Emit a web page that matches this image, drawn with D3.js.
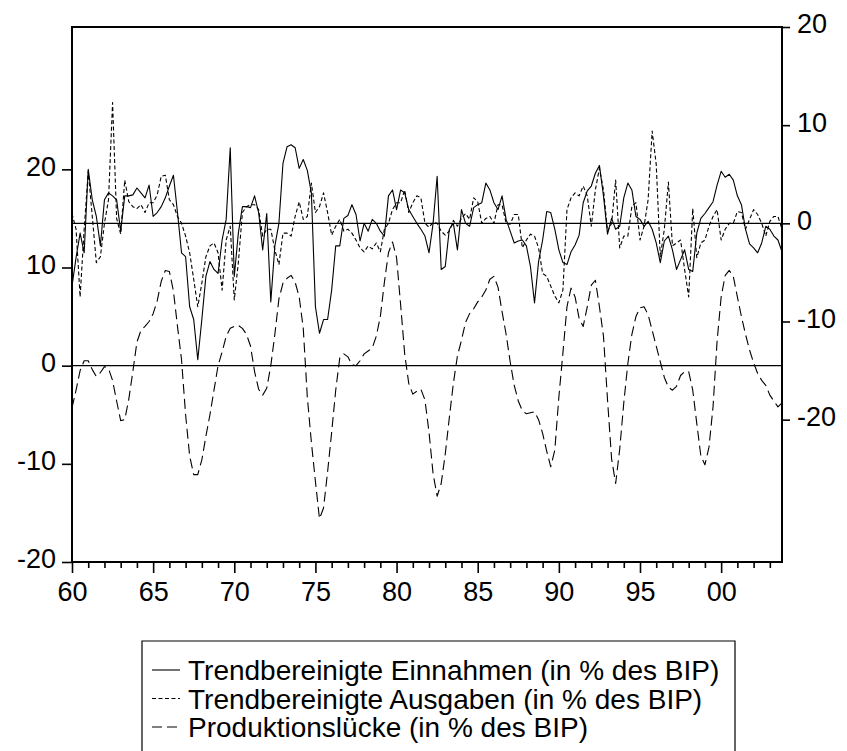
<!DOCTYPE html>
<html><head><meta charset="utf-8">
<script src="https://cdn.jsdelivr.net/npm/d3@7"></script>
<style>
body{margin:0;background:#fff}
svg{display:block}
text{font-family:"Liberation Sans",Arial,Helvetica,sans-serif;fill:#000}
</style>
</head><body>
<svg id="chart" width="847" height="751"></svg>
<script>
// Quarterly observations, 1960Q1 .. 2003Q4
const firstYear = 1960;
const majorTickYears = [1960,1965,1970,1975,1980,1985,1990,1995,2000];
const majorTickLabels = ["60","65","70","75","80","85","90","95","00"];
const leftTicks = [-20,-10,0,10,20];
const rightTicks = [-20,-10,0,10,20];
const seriesNames = [
  "Trendbereinigte Einnahmen (in % des BIP)",
  "Trendbereinigte Ausgaben (in % des BIP)",
  "Produktionslücke (in % des BIP)"
];
// right axis
const einnahmen = [
-6.4,-3.5,-1.0,-3.0,5.5,2.4,0.7,-2.3,2.4,3.1,2.8,2.4,-0.8,2.8,2.8,2.9,3.6,3.1,2.6,3.9,
0.7,1.1,1.7,2.6,3.8,4.9,1.1,-3.0,-3.4,-8.5,-9.8,-13.9,-9.8,-5.4,-3.9,-4.7,-5.1,-1.7,0.4,7.7,
-5.4,-1.0,1.7,1.7,1.6,2.8,1.1,-2.7,1.0,-8.0,-2.3,0.0,6.1,7.8,8.0,7.7,5.6,6.5,5.4,3.1,
-8.5,-11.2,-9.8,-9.8,-6.8,-2.3,-2.3,0.5,0.8,1.9,0.9,-1.8,0.0,-0.8,0.4,0.0,-0.8,-1.3,2.8,3.4,
1.4,3.4,3.1,1.4,0.7,0.0,-0.6,-1.3,-3.0,0.0,4.8,-4.7,-4.4,-0.6,0.0,-2.7,1.4,0.0,-0.3,1.6,
1.9,2.1,4.1,3.4,2.1,1.4,2.8,0.4,-0.8,-2.0,-1.8,-1.7,-2.3,-4.4,-8.1,-3.9,-1.7,1.2,1.1,-0.6,
-2.7,-4.0,-4.2,-2.9,-2.2,-1.2,2.1,3.3,3.8,5.1,5.9,2.8,-1.1,0.5,-0.6,-0.3,2.6,4.1,3.4,0.7,
0.4,-0.3,0.2,-0.6,-2.0,-4.0,-1.8,-1.3,-2.7,-4.7,-3.7,-2.7,-4.7,-4.9,-1.0,0.5,1.0,1.6,2.2,3.9,
5.3,4.7,5.0,4.4,2.8,1.9,-0.6,-2.1,-2.5,-3.0,-2.0,-0.3,-0.6,-1.3,-1.7,-2.9
];
// right axis
const ausgaben = [
1.0,-0.6,-7.5,-0.6,5.3,0.7,-4.0,-3.4,0.0,2.4,12.3,0.5,-1.1,4.4,2.2,1.7,1.5,1.9,1.1,2.1,
2.1,2.9,4.8,4.9,2.4,1.9,0.7,0.0,-1.3,-3.0,-5.7,-8.5,-6.1,-3.4,-2.3,-2.0,-3.0,-6.8,-1.7,-0.3,
-7.8,-4.0,1.1,1.7,1.9,1.9,1.4,-1.3,-0.6,-0.6,-2.7,-4.2,-1.0,-1.0,-1.3,0.7,2.2,0.4,0.7,4.1,
1.1,1.7,3.1,1.1,-1.2,-0.3,0.4,-0.8,-0.6,-1.0,-1.7,-2.5,-2.9,-2.3,-2.6,-2.0,-2.9,-0.6,0.0,1.4,
2.1,2.1,3.4,1.1,2.1,2.8,2.6,0.0,-0.4,0.1,0.0,-0.8,-1.2,-0.8,0.3,-0.3,0.5,1.0,0.4,2.6,
2.2,0.0,0.5,0.7,0.0,1.9,1.9,0.0,-0.1,0.9,0.9,-2.5,-1.7,-1.1,-1.3,-2.5,-5.1,-5.4,-6.4,-7.4,
-8.1,-6.8,1.4,2.6,3.1,2.8,3.8,2.8,-0.3,3.4,5.6,3.4,-0.8,0.0,4.4,-2.5,-1.3,-1.3,1.7,2.1,
-1.7,-0.3,2.4,9.4,6.0,-3.4,-0.6,4.2,-2.3,-2.0,-1.7,-4.7,-7.5,1.5,-3.5,-2.0,-1.7,-0.3,0.7,1.4,
-1.7,-0.6,0.0,0.0,1.2,1.1,-0.6,0.4,1.4,0.9,0.0,-1.3,0.2,0.7,0.7,-0.6
];
// left axis
const produktionsluecke = [
-4.3,-2.5,-0.5,0.5,0.5,-0.4,-1.1,-0.7,-0.1,-0.3,-1.5,-3.6,-5.6,-5.5,-3.4,-0.6,2.4,3.6,4.0,4.5,
5.3,6.6,8.6,9.7,9.6,7.6,4.0,0.6,-5.0,-9.2,-11.1,-11.1,-9.6,-7.2,-5.0,-2.5,0.0,1.4,3.0,3.8,
4.0,4.1,3.8,3.2,2.0,-0.6,-2.4,-3.0,-2.3,0.0,3.2,6.8,8.4,8.9,9.2,8.5,7.0,3.8,-3.2,-7.8,
-11.8,-15.6,-14.5,-10.8,-6.8,-2.5,0.8,1.2,0.9,0.1,0.0,0.5,1.2,1.5,1.8,3.0,5.0,8.5,11.5,12.6,
11.0,6.2,1.2,-1.8,-2.9,-2.6,-2.4,-3.5,-6.8,-11.0,-13.3,-12.0,-9.0,-5.3,-1.8,1.0,2.6,4.4,5.3,5.8,
6.5,7.0,7.7,8.8,9.1,8.0,5.5,3.2,0.4,-2.0,-3.6,-4.6,-4.9,-4.8,-4.7,-5.5,-6.9,-8.7,-10.3,-8.6,
-3.2,1.3,6.0,7.9,7.0,4.8,4.0,6.0,8.2,8.7,6.0,3.0,-3.5,-9.5,-12.0,-8.5,-3.8,0.2,3.2,5.0,
5.9,6.0,5.2,3.6,2.0,0.4,-1.2,-2.2,-2.5,-2.1,-1.0,-0.6,-0.6,-2.5,-5.9,-9.2,-10.1,-8.3,-4.2,2.5,
7.0,9.2,9.7,9.1,7.0,5.0,3.2,1.6,0.3,-0.8,-1.5,-2.0,-3.0,-3.6,-4.2,-3.8
];

const svg = d3.select("#chart");
const M = {left:72, right:782, top:27, bottom:562};
const FS = 27;

const dates = einnahmen.map((_, i) => firstYear + i / 4);
const x = d3.scaleLinear().domain([dates[0], dates[dates.length-1]]).range([M.left, M.right]);
const yL = d3.scaleLinear().domain([-20, 34.5]).range([M.bottom, M.top]);
const yR = d3.scaleLinear().domain([-34.5, 20]).range([M.bottom, M.top]);

// zero lines
svg.append("line").attr("x1",M.left).attr("x2",M.right)
  .attr("y1",yR(0)).attr("y2",yR(0)).attr("stroke","#000").attr("stroke-width",1.4);
svg.append("line").attr("x1",M.left).attr("x2",M.right)
  .attr("y1",yL(0)).attr("y2",yL(0)).attr("stroke","#000").attr("stroke-width",1.4);

const styles = [
  {data: einnahmen, y: yR, dash: null},
  {data: ausgaben, y: yR, dash: "4,2.5"},
  {data: produktionsluecke, y: yL, dash: "10,5"}
];
styles.slice().reverse().forEach(s => {
  const line = d3.line().x((d,i) => x(dates[i])).y(d => s.y(d));
  svg.append("path").datum(s.data).attr("d", line)
    .attr("fill","none").attr("stroke","#000").attr("stroke-width",1.1)
    .attr("stroke-dasharray", s.dash).attr("stroke-linejoin","round");
});

// frame
svg.append("rect").attr("x",M.left).attr("y",M.top)
  .attr("width",M.right-M.left).attr("height",M.bottom-M.top)
  .attr("fill","none").attr("stroke","#000").attr("stroke-width",2);

// bottom axis: minor yearly ticks
const minorYears = d3.range(1960, 2004).filter(y => !majorTickYears.includes(y));
const gMinor = svg.append("g").attr("transform",`translate(0,${M.bottom})`)
  .call(d3.axisBottom(x).tickValues(minorYears).tickSize(6).tickFormat(""));
gMinor.select(".domain").remove();
const gX = svg.append("g").attr("transform",`translate(0,${M.bottom})`)
  .call(d3.axisBottom(x).tickValues(majorTickYears).tickSize(11).tickPadding(9)
    .tickFormat((d,i) => majorTickLabels[i]));
gX.select(".domain").remove();

const gL = svg.append("g").attr("transform",`translate(${M.left},0)`)
  .call(d3.axisLeft(yL).tickValues(leftTicks).tickSize(10).tickPadding(6).tickFormat(d3.format("d")));
gL.select(".domain").remove();
const gR = svg.append("g").attr("transform",`translate(${M.right},0)`)
  .call(d3.axisRight(yR).tickValues(rightTicks).tickSize(8).tickPadding(7).tickFormat(d3.format("d")));
gR.select(".domain").remove();

svg.selectAll(".tick line").attr("stroke","#000").attr("stroke-width",1.6);
svg.selectAll(".tick text").attr("font-size",FS).attr("font-family",'"Liberation Sans",Arial,sans-serif').attr("fill","#000");
gL.selectAll(".tick text").attr("dy","0.22em");
gR.selectAll(".tick text").attr("dy","0.22em");
// minus sign as hyphen like reference
svg.selectAll(".tick text").text(function(){ return this.textContent.replace("\u2212","-"); });

// legend
const lg = svg.append("g");
const box = {x0:142, x1:735, top:641};
lg.append("path").attr("d",`M${box.x0},752V${box.top}H${box.x1}V752`)
  .attr("fill","none").attr("stroke","#000").attr("stroke-width",1.2);
styles.forEach((s,i) => {
  const yy = 670 + i*28.5;
  lg.append("line").attr("x1",152).attr("x2",180).attr("y1",yy).attr("y2",yy)
    .attr("stroke","#000").attr("stroke-width",1.1).attr("stroke-dasharray", s.dash);
  lg.append("text").attr("x",188).attr("y",yy).attr("dy","0.36em")
    .attr("font-size",28).text(seriesNames[i]);
});
</script>
</body></html>
